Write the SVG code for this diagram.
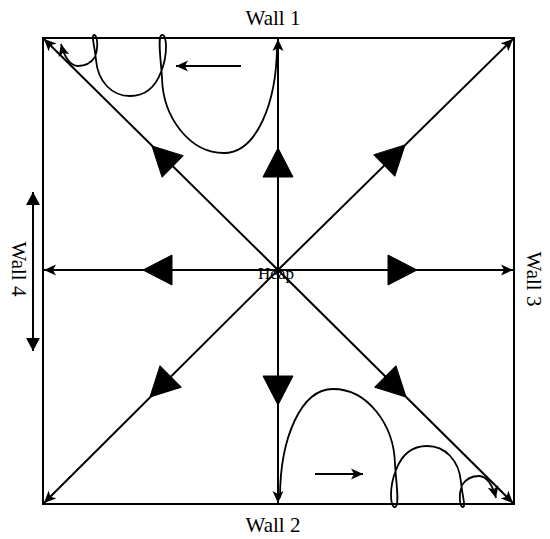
<svg xmlns="http://www.w3.org/2000/svg" width="550" height="539" viewBox="0 0 550 539">
<style>
.ln{stroke:#000;stroke-width:2;fill:none}
.cv{stroke:#000;stroke-width:1.8;fill:none}
.hd{fill:#000;stroke:#000;stroke-width:1;stroke-linejoin:round}
.tx{font-family:"Liberation Serif","Times New Roman",serif;font-size:21px;fill:#000}
</style>
<defs>
<marker id="ah" markerUnits="userSpaceOnUse" markerWidth="14" markerHeight="12" refX="12" refY="6" orient="auto">
<path d="M0,0.5 L12,6 L0,11.5 L3,6 z" fill="#000"/>
</marker>
<marker id="ah2" markerUnits="userSpaceOnUse" markerWidth="16" markerHeight="16" refX="13" refY="7.5" orient="auto">
<path d="M0,0.5 L13,7.5 L0,14.5 z" fill="#000"/>
</marker>
<polygon id="big" points="0,0 -29,-15 -29,15"/>
</defs>
<rect x="43" y="38" width="471" height="466" fill="#fff" stroke="#000" stroke-width="2"/>
<g id="connectors">
<line class="ln" x1="278" y1="270" x2="278" y2="39" marker-end="url(#ah)"/>
<line class="ln" x1="278" y1="270" x2="278" y2="503" marker-end="url(#ah)"/>
<line class="ln" x1="278" y1="270" x2="44" y2="270" marker-end="url(#ah)"/>
<line class="ln" x1="278" y1="270" x2="513" y2="270" marker-end="url(#ah)"/>
<line class="ln" x1="278" y1="270" x2="44" y2="39" marker-end="url(#ah)"/>
<line class="ln" x1="278" y1="270" x2="513" y2="39" marker-end="url(#ah)"/>
<line class="ln" x1="278" y1="270" x2="44" y2="503" marker-end="url(#ah)"/>
<line class="ln" x1="278" y1="270" x2="513" y2="503" marker-end="url(#ah)"/>
<g class="hd">
<use href="#big" transform="translate(278,148) rotate(-90)"/>
<use href="#big" transform="translate(278,405) rotate(90)"/>
<use href="#big" transform="translate(143,270) rotate(180)"/>
<use href="#big" transform="translate(417,270)"/>
<use href="#big" transform="translate(152,146) rotate(-135.3)"/>
<use href="#big" transform="translate(405,145) rotate(-44.5)"/>
<use href="#big" transform="translate(150,397) rotate(135.1)"/>
<use href="#big" transform="translate(406,397) rotate(44.8)"/>
</g>
<path id="loopsTL" class="cv" marker-end="url(#ah)" d="M277,44 C277,104 256,153 224,153 C190,153 163,118 162,78 C161,60 157,36 162,35 C167,34 168,55 161,72 C155,88 145,96 130,96 C112,96 98,82 96,60 C95,48 91,35 94,35 C97,35 99,46 95,57 C91,63 85,66 78,66 C70,66 64,56 61,44"/>
<use href="#loopsTL" transform="rotate(180,278.5,271)"/>
<line class="ln" x1="241" y1="66" x2="176" y2="66" marker-end="url(#ah)"/>
<line class="ln" x1="315" y1="474" x2="363" y2="474" marker-end="url(#ah)"/>
<line class="ln" x1="33" y1="270" x2="33" y2="192" marker-end="url(#ah2)"/>
<line class="ln" x1="33" y1="270" x2="33" y2="351" marker-end="url(#ah2)"/>
</g>
<g id="labels">
<text class="tx" x="273" y="25" text-anchor="middle">Wall 1</text>
<text class="tx" x="273" y="532" text-anchor="middle">Wall 2</text>
<text class="tx" transform="translate(527,279) rotate(90)" text-anchor="middle">Wall 3</text>
<text class="tx" transform="translate(12,269) rotate(90)" text-anchor="middle">Wall 4</text>
<text class="tx" x="276" y="279" text-anchor="middle" style="font-size:17px">Heap</text>
</g>
</svg>
